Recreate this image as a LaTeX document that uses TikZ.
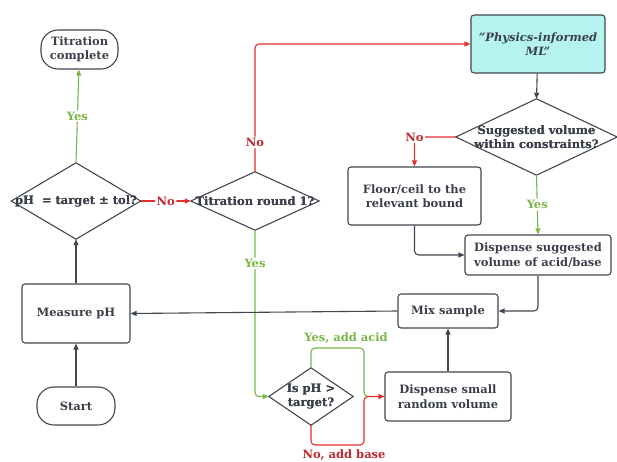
\documentclass[tikz,border=0pt]{standalone}
\usepackage{fontspec}
\setmainfont{DejaVu Serif}
\usetikzlibrary{arrows.meta}
\definecolor{txt}{HTML}{3A3F4A}
\definecolor{ln}{HTML}{3F4750}
\definecolor{lgreen}{HTML}{7AB648}
\definecolor{lred}{HTML}{E42E2E}
\definecolor{dred}{HTML}{C0272D}
\definecolor{cyanfill}{HTML}{B5F4EE}
\tikzset{
  base/.style={font=\fontsize{11.5}{14.5}\selectfont\bfseries, text=txt, align=center, inner sep=0pt},
  box/.style={base, draw=ln, line width=1.1pt, rounded corners=3pt},
  term/.style={base, draw=ln, line width=1.1pt, rounded corners=17pt},
  dnode/.style={base},
  dshape/.style={draw=ln, line width=1.1pt},
  tip/.style={-{Triangle[length=6pt,width=5pt]}},
  dk/.style={draw=ln, line width=1.1pt, tip, rounded corners=4pt},
  gr/.style={draw=lgreen, line width=1.1pt, tip, rounded corners=4pt},
  rd/.style={draw=lred, line width=1.1pt, tip, rounded corners=4pt},
  lbl/.style={font=\fontsize{11.5}{13}\selectfont\bfseries, fill=white, inner sep=1.5pt},
}
\begin{document}
\begin{tikzpicture}[x=1pt,y=-1pt]
\useasboundingbox (0,0) rectangle (617,462);
% nodes
\node[term, minimum width=77, minimum height=39] (done) at (79.5,49.5) {Titration\\complete};
\node[dnode, minimum width=129, minimum height=76] (q1) at (76,201) {pH\ \ = target ± tol?};
\node[dnode, minimum width=128, minimum height=58] (q2) at (255,201) {Titration round 1?};
\node[box, minimum width=108, minimum height=59] (meas) at (76,313.5) {Measure pH};
\node[term, minimum width=78, minimum height=38] (start) at (76,406) {Start};
\node[box, fill=cyanfill, minimum width=134, minimum height=58, font=\fontsize{11.5}{14.5}\selectfont\bfseries\itshape] (ml) at (538,44) {"Physics-informed\\ML"};
\node[dnode, minimum width=161, minimum height=76] (q3) at (536.5,137) {Suggested volume\\within constraints?};
\node[box, minimum width=133, minimum height=58] (floor) at (414.5,196) {Floor/ceil to the\\relevant bound};
\node[box, minimum width=146, minimum height=40] (dsug) at (538,255) {Dispense suggested\\volume of acid/base};
\node[box, minimum width=100, minimum height=34] (mix) at (448,311) {Mix sample};
\node[dnode, minimum width=84, minimum height=57] (q4) at (311,396.5) {Is pH >\\target?};
\node[box, minimum width=126, minimum height=49] (dsmall) at (448,396.5) {Dispense small\\random volume};
% diamonds
\foreach \d in {q1,q2,q3,q4}{
  \draw[dshape] (\d.north) -- (\d.east) -- (\d.south) -- (\d.west) -- cycle;
}
\node[dnode] at (q1) {pH\ \ = target ± tol?};
\node[dnode] at (q2) {Titration round 1?};
\node[dnode] at (q3) {Suggested volume\\within constraints?};
\node[dnode] at (q4) {Is pH >\\target?};
% helper coordinates
\coordinate (ytop) at (0,348);
\coordinate (ybot) at (0,445);
\coordinate (j) at (364,396.5);
% connectors
\draw[dk] (start) -- (meas);
\draw[dk] (meas) -- (q1.south);
\draw[gr] (q1.north) -- node[lbl, text=lgreen] {Yes} (done);
\draw[rd] (q1.east) -- node[lbl, text=dred] {No} (q2.west);
\draw[rd] (q2.north) -- node[lbl, text=dred, pos=0.23] {No} (q2.north |- ml.west) -- (ml.west);
\draw[gr] (q2.south) -- node[lbl, text=lgreen, pos=0.2] {Yes} (q2.south |- q4.west) -- (q4.west);
\draw[dk] (ml) -- (q3.north);
\draw[rd] (q3.west) -- (floor.north |- q3.west) node[lbl, text=dred] {No} -- (floor.north);
\draw[gr] (q3.south) -- node[lbl, text=lgreen] {Yes} (dsug.north);
\draw[dk] (floor.south) -- (floor.south |- dsug.west) -- (dsug.west);
\draw[dk] (dsug.south) -- (dsug.south |- mix.east) -- (mix.east);
\draw[dk] (mix.west) -- (meas.east);
\draw[dk] (dsmall.north) -- (mix.south);
\draw[draw=lgreen, line width=1.1pt, rounded corners=4pt] (q4.north) -- (q4.north |- ytop) -- (j |- ytop) -- (j) -- ++(6,0);
\draw[rd] (q4.south) -- (q4.south |- ybot) -- (j |- ybot) -- (j) -- (dsmall.west);
\node[lbl, text=lgreen, fill=none] (yaa) at (346,338) {Yes, add acid};
\node[lbl, text=dred, fill=none] (nab) at (344,455) {No, add base};
\end{tikzpicture}
\end{document}
